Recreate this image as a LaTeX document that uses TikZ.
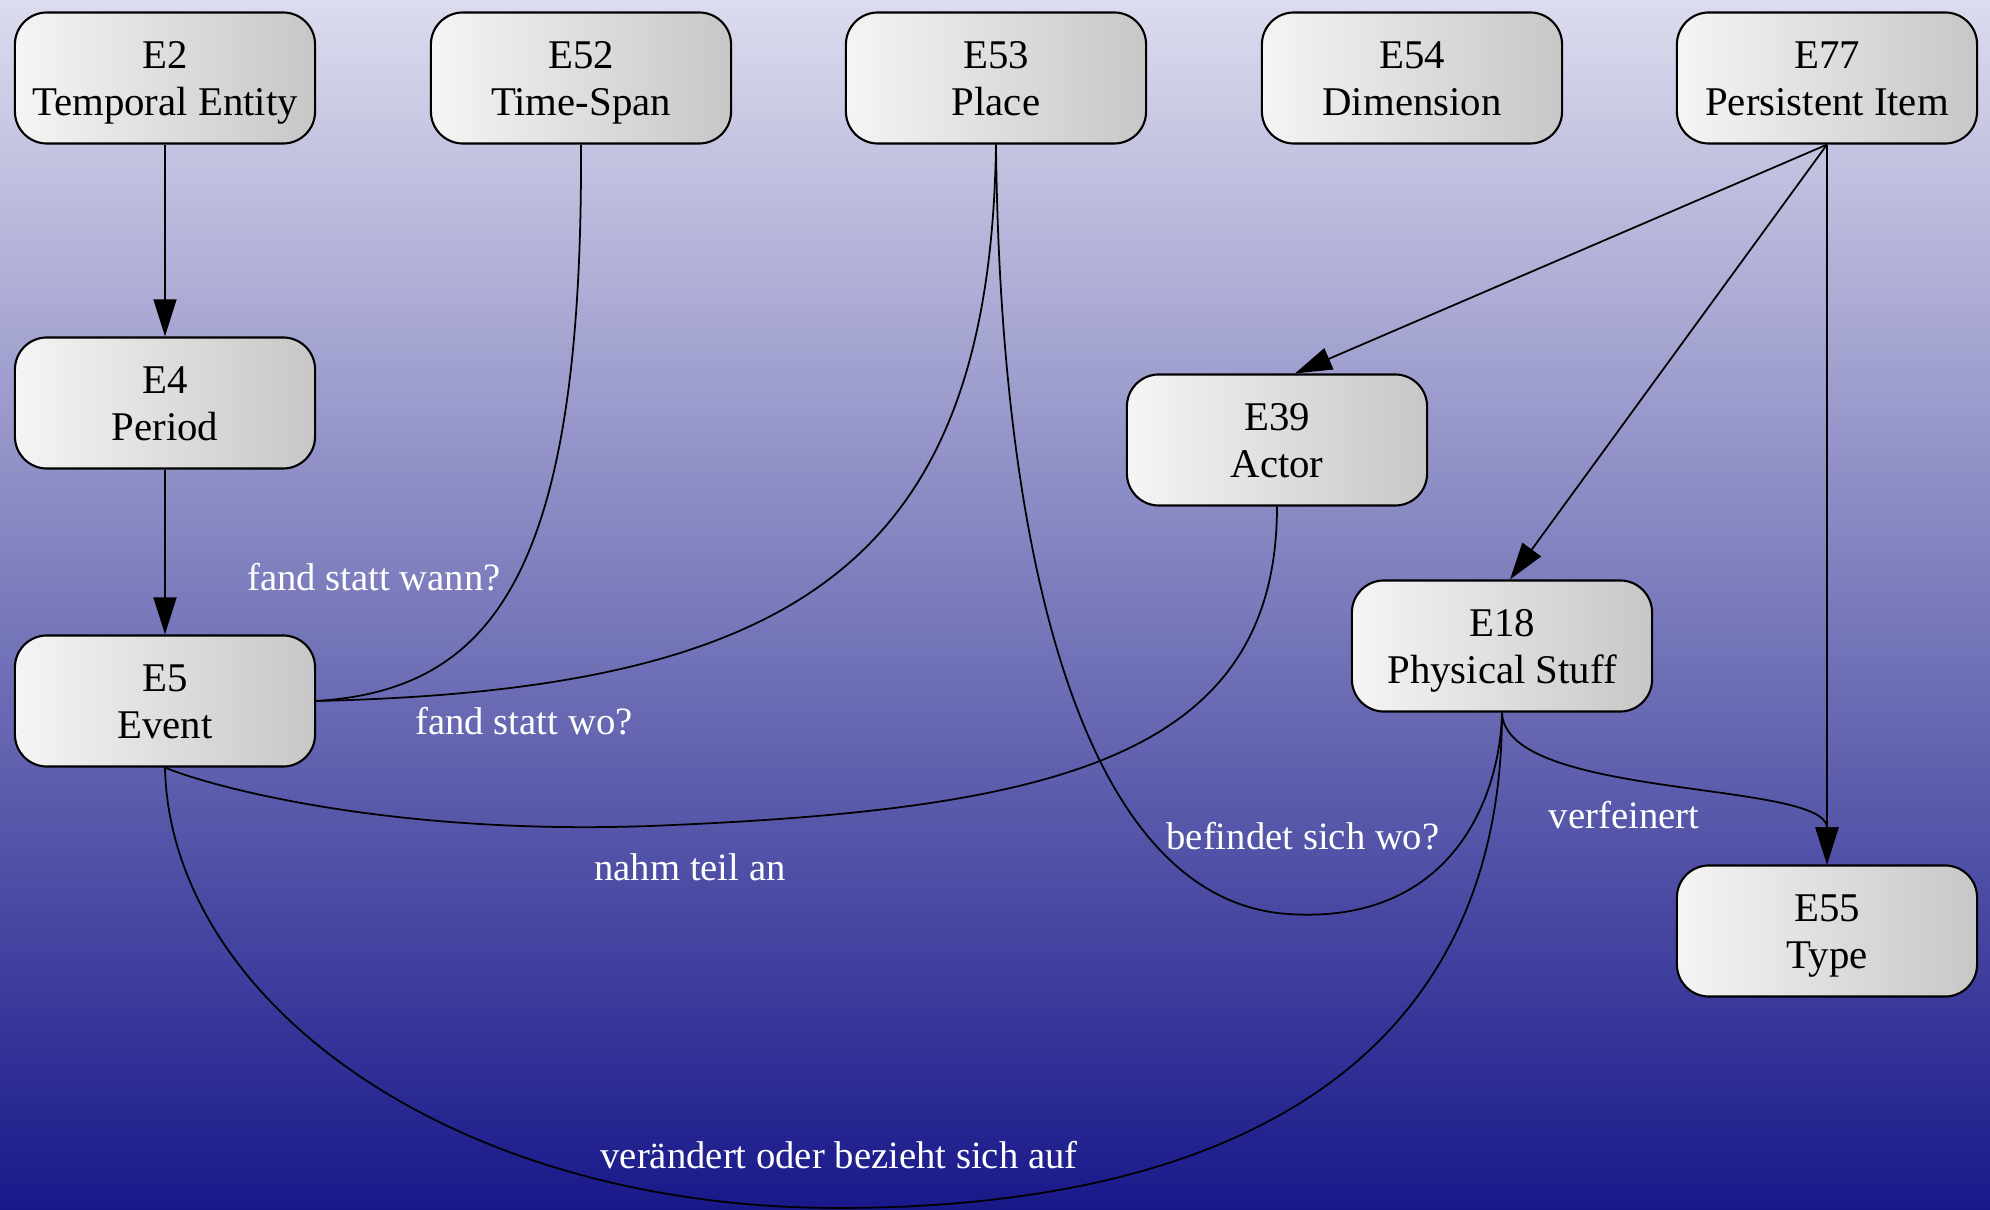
\documentclass[tikz,border=0pt]{standalone}
\usepackage{fontspec}
\setmainfont{Liberation Serif}
\usetikzlibrary{arrows.meta}
\definecolor{bgtop}{RGB}{220,220,238}
\definecolor{bgbot}{RGB}{24,24,138}
\newcommand\ent[2]{\rule{0pt}{11pt}#1\\#2\rule[-2.9pt]{0pt}{2.9pt}}

\begin{document}
\begin{tikzpicture}[x=0.01cm, y=-0.01cm, line width=0.5pt,
  >={Triangle[length=10.5pt,width=6.5pt]},
  entity/.style={draw, line width=0.6pt, rounded corners=0.32cm,
    minimum width=3cm, minimum height=1.31cm, align=center,
    left color=white!96!black, right color=black!22,
    font=\fontsize{11.6}{13.3}\selectfont},
  rel/.style={text=white, font=\fontsize{11}{13}\selectfont}]
\useasboundingbox (0,0) rectangle (1990,1210);
\shade[top color=bgtop, bottom color=bgbot] (0,0) rectangle (1990,1210);

\node[entity] (e2)  at (165,78)  {\ent{E2}{Temporal Entity}};
\node[entity] (e52) at (581,78)  {\ent{E52}{Time-Span}};
\node[entity] (e53) at (996,78)  {\ent{E53}{Place}};
\node[entity] (e54) at (1412,78) {\ent{E54}{Dimension}};
\node[entity] (e77) at (1827,78) {\ent{E77}{Persistent Item}};
\node[entity] (e4)  at (165,403) {\ent{E4}{Period}};
\node[entity] (e39) at (1277,440) {\ent{E39}{Actor}};
\node[entity] (e5)  at (165,701) {\ent{E5}{Event}};
\node[entity] (e18) at (1502,646) {\ent{E18}{Physical Stuff}};
\node[entity] (e55) at (1827,931) {\ent{E55}{Type}};

\draw[->] (e2) -- (e4);
\draw[->] (e4) -- (e5);
\draw[->] (e77.south) -- ([xshift=0.18cm]e39.north);
\draw[->] (e77.south) -- ([xshift=0.08cm]e18.north);
\draw[->] (e77) -- (e55);
\draw (e52.south) .. controls (583,570) and (495,690) .. (e5.east);
\draw (e53.south) .. controls (990,560) and (800,690) .. (e5.east);
\draw (e39.south) .. controls (1277,760) and (1050,810) .. (650,826)
  .. controls (400,835) and (220,790) .. (e5.south);
\draw (e53.south) .. controls (1000,550) and (1080,900) .. (1288,914)
  .. controls (1450,925) and (1500,800) .. (e18.south);
\draw (e18.south) .. controls (1502,1050) and (1250,1208) .. (838,1208)
  .. controls (450,1208) and (170,1000) .. (e5.south);
\draw[->] (e18.south) .. controls (1505,800) and (1827,780) .. (e55.north);

\node[rel] (wann)  at (374,577)  {fand statt wann?};
\node[rel] (wo)    at (524,721)  {fand statt wo?};
\node[rel] (teil)  at (690,867)  {nahm teil an};
\node[rel] (sich)  at (1303,836) {befindet sich wo?};
\node[rel] (fein)  at (1624,815) {verfeinert};
\node[rel] (bezug) at (839,1155) {verändert oder bezieht sich auf};
\end{tikzpicture}
\end{document}
